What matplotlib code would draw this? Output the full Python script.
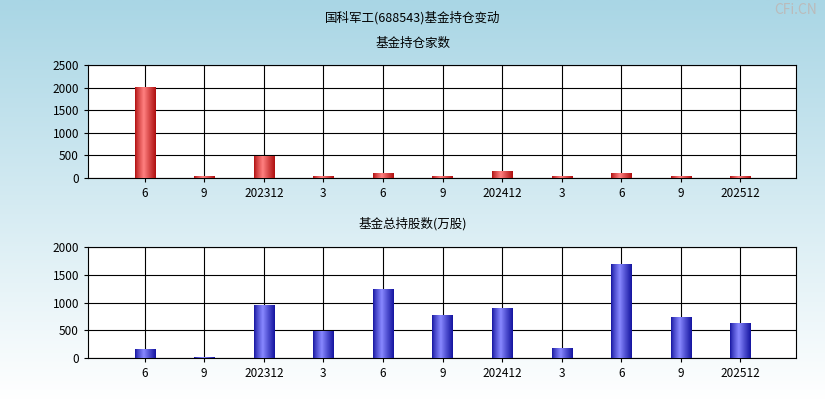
import matplotlib
matplotlib.use("Agg")
import matplotlib.pyplot as plt
import numpy as np
from matplotlib.colors import LinearSegmentedColormap

plt.rcParams['font.family'] = ['Noto Sans CJK SC', 'DejaVu Sans']

labels = ['6', '9', '202312', '3', '6', '9', '202412', '3', '6', '9', '202512']
fund_count = [2010, 40, 490, 40, 120, 40, 150, 40, 120, 40, 40]
fund_shares = [160, 10, 960, 480, 1250, 780, 900, 180, 1700, 740, 630]

fig = plt.figure(figsize=(8.25, 4), dpi=100)
bg = fig.add_axes([0, 0, 1, 1], zorder=-10)
grad = np.linspace(0, 1, 256).reshape(-1, 1)
bg.imshow(grad, aspect='auto', cmap=LinearSegmentedColormap.from_list('bg', ['#a9d6e5', '#ffffff']),
          extent=[0, 1, 0, 1])
bg.axis('off')

fig.text(0.5, 0.955, '国科军工(688543)基金持仓变动', ha='center', va='center', fontsize=9)
fig.text(0.99, 0.975, 'CFi.CN', ha='right', va='center', fontsize=10, color='#bbbbbb')

def draw(rect, vals, title, ty, yticks, ylim, dark, light):
    ax = fig.add_axes(rect)
    ax.set_facecolor('white')
    x = np.arange(len(vals))
    cmap = LinearSegmentedColormap.from_list('b', [dark, light, dark])
    bars = ax.bar(x, vals, width=0.34, color='none', zorder=3)
    for b in bars:
        x0, y0, w, h = b.get_x(), b.get_y(), b.get_width(), b.get_height()
        im = ax.imshow(np.linspace(0, 1, 64).reshape(1, -1) ** 0.8, cmap=cmap, aspect='auto',
                       extent=[x0, x0 + w, y0, y0 + max(h, 1)], zorder=3)
        im.set_clip_path(b)
    ax.set_xlim(-0.95, 10.93)
    ax.set_ylim(*ylim)
    ax.set_yticks(yticks)
    ax.set_xticks(x)
    ax.set_xticklabels(labels)
    ax.grid(True, color='black', linewidth=0.8, zorder=0)
    ax.set_axisbelow(True)
    ax.tick_params(labelsize=8.5, length=3)
    fig.text(0.5, ty, title, ha='center', va='center', fontsize=9)
    return ax

draw([0.1067, 0.555, 0.858, 0.2825], fund_count, '基金持仓家数', 1 - 43 / 400,
     [0, 500, 1000, 1500, 2000, 2500], (0, 2500), '#b01010', '#ff8080')
draw([0.1067, 0.105, 0.858, 0.2775], fund_shares, '基金总持股数(万股)', 1 - 224 / 400,
     [0, 500, 1000, 1500, 2000], (0, 2000), '#1515a0', '#8888ff')

fig.savefig('out.png', dpi=100)
